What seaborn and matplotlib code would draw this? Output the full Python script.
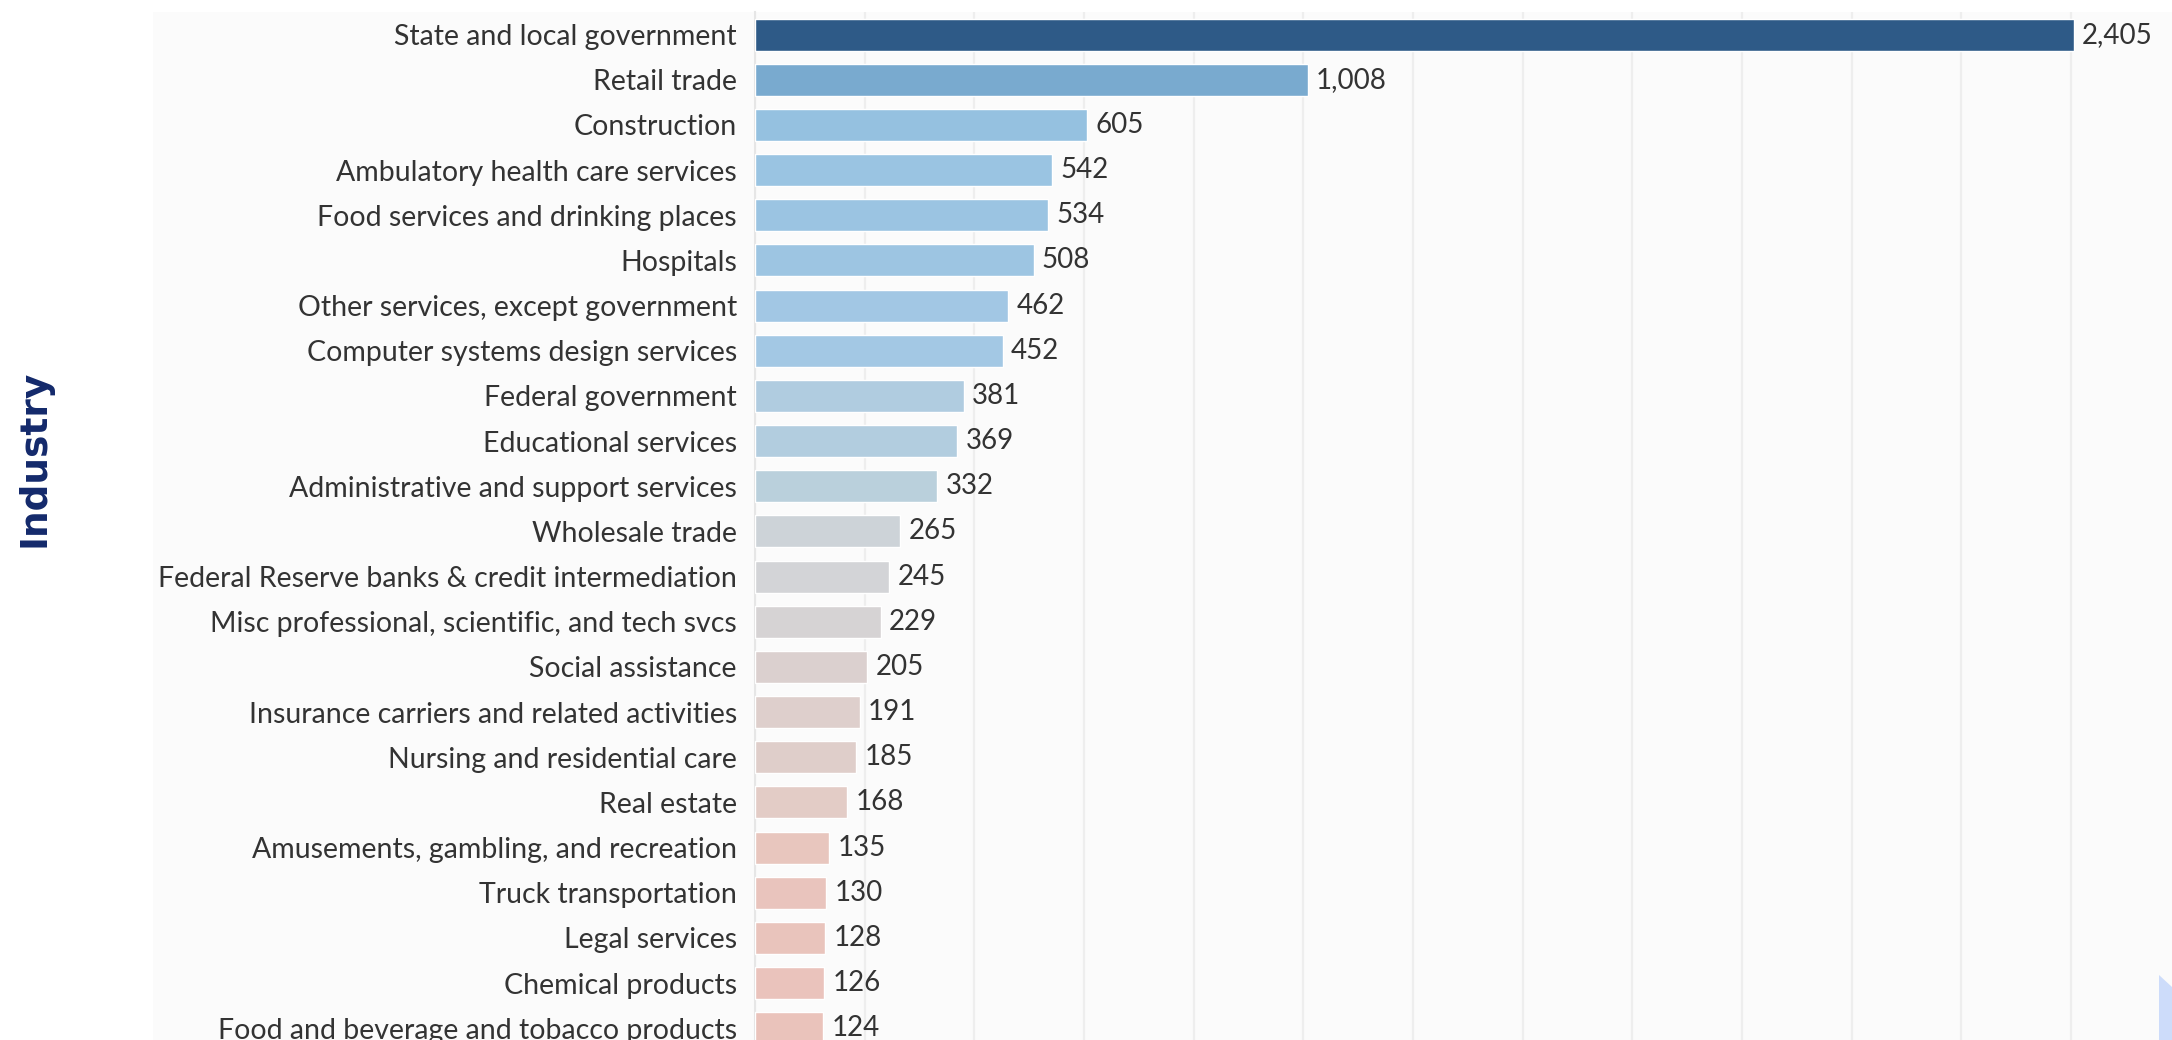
import numpy as np
import pandas as pd
import matplotlib
matplotlib.use("Agg")
import matplotlib.pyplot as plt
import seaborn as sns
from matplotlib.patches import Rectangle, Polygon

industries = [
    "State and local government", "Retail trade", "Construction",
    "Ambulatory health care services", "Food services and drinking places",
    "Hospitals", "Other services, except government",
    "Computer systems design services", "Federal government",
    "Educational services", "Administrative and support services",
    "Wholesale trade", "Federal Reserve banks & credit intermediation",
    "Misc professional, scientific, and tech svcs", "Social assistance",
    "Insurance carriers and related activities", "Nursing and residential care",
    "Real estate", "Amusements, gambling, and recreation",
    "Truck transportation", "Legal services", "Chemical products",
    "Food and beverage and tobacco products",
]
values = [2405, 1008, 605, 542, 534, 508, 462, 452, 381, 369, 332, 265,
          245, 229, 205, 191, 185, 168, 135, 130, 128, 126, 124]

# diverging colour scale anchors (value -> colour)
anchor_vals = [124, 168, 245, 332, 452, 605, 1008, 2405]
anchor_cols = ["#eac3bb", "#e3ccc6", "#d3d4d7", "#bad0dc", "#a3c8e4",
               "#95c1e0", "#79aacf", "#2e5a87"]

sns.set_theme(style="white")
plt.rcParams["font.family"] = ["Lato", "DejaVu Sans"]

rgb = np.array([matplotlib.colors.to_rgb(c) for c in anchor_cols])
lv = np.log(anchor_vals)
cols = []
for v in values:
    cols.append(tuple(np.interp(np.log(v), lv, rgb[:, k]) for k in range(3)))

df = pd.DataFrame({"Industry": industries, "Value": values})

W, H = 2172, 1040
fig = plt.figure(figsize=(W / 100, H / 100), dpi=100)
fig.patch.set_facecolor("white")
# subtle panel background
fig.patches.append(Rectangle((153 / W, 0), 1 - 153 / W, 1 - 12 / H,
                             transform=fig.transFigure, facecolor="#fbfbfb",
                             edgecolor="none", zorder=-10))

ax = fig.add_axes([755 / W, 0, 1 - 755 / W, 1 - 12 / H])
ax.set_facecolor("#fbfbfb")
sns.barplot(data=df, x="Value", y="Industry", hue="Industry",
            palette=cols, legend=False, width=0.71, ax=ax, zorder=3,
            saturation=1)

ax.set_xlim(0, (W - 755) / 0.5483)
ax.set_ylim(22.26, -0.5)
ax.set_xticks(np.arange(0, 2600, 200))
ax.xaxis.grid(True, color="#eeeeee", linewidth=1.6, zorder=0)
ax.yaxis.grid(False)
ax.tick_params(axis="x", bottom=False, labelbottom=False)
ax.tick_params(axis="y", length=0, pad=13, labelsize=20.5, labelcolor="#333333")
for s in ["top", "right", "bottom"]:
    ax.spines[s].set_visible(False)
ax.spines["left"].set_color("#e6e6e6")
ax.spines["left"].set_linewidth(1.5)
ax.set_xlabel("")
ax.set_ylabel("")

for c in ax.containers:
    ax.bar_label(c, labels=[f"{v:,.0f}" for v in c.datavalues], padding=6,
                 fontsize=20, color="#333333")

fig.text(35 / W, 1 - 458 / H, "Industry", rotation=90, ha="center",
         va="center", fontsize=27, fontweight="bold", color="#13296b",
         family="DejaVu Sans")

fig.patches.append(Polygon([(2159 / W, 1 - 975 / H), (1, 1 - 987 / H),
                            (1, 0), (2159 / W, 0)], closed=True,
                           transform=fig.transFigure, facecolor="#cddcfa",
                           edgecolor="none", zorder=10))

fig.savefig("out.png", dpi=100)
